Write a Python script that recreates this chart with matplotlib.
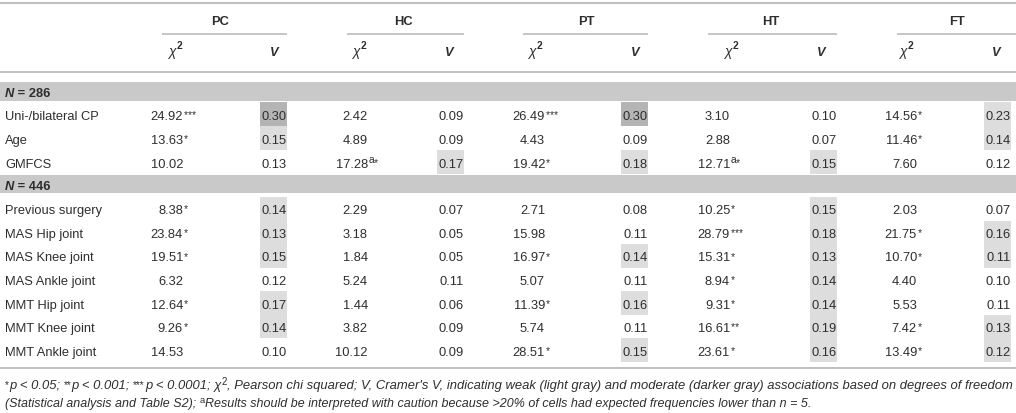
import matplotlib
matplotlib.use('Agg')
import matplotlib.pyplot as plt
from matplotlib.patches import Rectangle

# ---------------- data ----------------
groups = ["PC", "HC", "PT", "HT", "FT"]
section_titles = ["286", "446"]
rows_sec1 = ["Uni-/bilateral CP", "Age", "GMFCS"]
rows_sec2 = ["Previous surgery", "MAS Hip joint", "MAS Knee joint", "MAS Ankle joint",
             "MMT Hip joint", "MMT Knee joint", "MMT Ankle joint"]

# chi-squared values (rows x groups)
chi2_vals = [
    [24.92, 2.42, 26.49, 3.10, 14.56],
    [13.63, 4.89, 4.43, 2.88, 11.46],
    [10.02, 17.28, 19.42, 12.71, 7.60],
    [8.38, 2.29, 2.71, 10.25, 2.03],
    [23.84, 3.18, 15.98, 28.79, 21.75],
    [19.51, 1.84, 16.97, 15.31, 10.70],
    [6.32, 5.24, 5.07, 8.94, 4.40],
    [12.64, 1.44, 11.39, 9.31, 5.53],
    [9.26, 3.82, 5.74, 16.61, 7.42],
    [14.53, 10.12, 28.51, 23.61, 13.49],
]
chi2_sig = [
    ["***", "", "***", "", "*"],
    ["*", "", "", "", "*"],
    ["", "a*", "*", "a*", ""],
    ["*", "", "", "*", ""],
    ["*", "", "", "***", "*"],
    ["*", "", "*", "*", "*"],
    ["", "", "", "*", ""],
    ["*", "", "*", "*", ""],
    ["*", "", "", "**", "*"],
    ["", "", "*", "*", "*"],
]
# Cramer's V values (rows x groups)
v_vals = [
    [0.30, 0.09, 0.30, 0.10, 0.23],
    [0.15, 0.09, 0.09, 0.07, 0.14],
    [0.13, 0.17, 0.18, 0.15, 0.12],
    [0.14, 0.07, 0.08, 0.15, 0.07],
    [0.13, 0.05, 0.11, 0.18, 0.16],
    [0.15, 0.05, 0.14, 0.13, 0.11],
    [0.12, 0.11, 0.11, 0.14, 0.10],
    [0.17, 0.06, 0.16, 0.14, 0.11],
    [0.14, 0.09, 0.11, 0.19, 0.13],
    [0.10, 0.09, 0.15, 0.16, 0.12],
]
# association strength: 0 none, 1 weak (light gray), 2 moderate (darker gray)
v_shade = [
    [2, 0, 2, 0, 1],
    [1, 0, 0, 0, 1],
    [0, 1, 1, 1, 0],
    [1, 0, 0, 1, 0],
    [1, 0, 0, 1, 1],
    [1, 0, 1, 1, 1],
    [0, 0, 0, 1, 0],
    [1, 0, 1, 1, 0],
    [1, 0, 0, 1, 1],
    [0, 0, 1, 1, 1],
]

# ---------------- style / layout ----------------
W, H = 1016, 413
FONT = 'Liberation Sans'
plt.rcParams['font.family'] = [FONT, 'DejaVu Sans']
TXT = '#2e2e2e'
RULE = '#c0c0c0'
BAND = '#c9c9c9'
SHADES = {1: '#dddddd', 2: '#b4b4b4'}
BODY = 9.3
SUP = 7.4

group_center = [220, 403, 586, 771, 957]
underline = [(162, 287), (347, 464), (523, 648), (708, 837), (897, 1016)]
chi_head = [176, 360, 536, 732, 907]
v_head = [274, 449, 635, 821, 996]
chi_right = [183, 368, 545, 730, 917]
v_right = [287, 464, 648, 837, 1011]

fig = plt.figure(figsize=(W / 100, H / 100), dpi=100)
ax = fig.add_axes([0, 0, 1, 1])
ax.set_xlim(0, W)
ax.set_ylim(H, 0)
ax.axis('off')
renderer = fig.canvas.get_renderer()


def tw(s, **kw):
    t = ax.text(0, 0, '|' + s + '|', **kw)
    w1 = t.get_window_extent(renderer).width
    t.remove()
    t = ax.text(0, 0, '||', **kw)
    w2 = t.get_window_extent(renderer).width
    t.remove()
    return w1 - w2


def runs(x, yb, items):
    for s, kw, dy in items:
        ax.text(x, yb - dy, s, ha='left', va='baseline', color=TXT, **kw)
        x += tw(s, **kw)
    return x


def hline(y, x0, x1, lw):
    ax.plot([x0, x1], [y, y], color=RULE, lw=lw, solid_capstyle='butt')


# rules
hline(2.5, 0, W, 1.5)
for (a, b) in underline:
    hline(34, a, b, 1.3)
hline(71.5, 0, W, 1.5)
hline(368, 0, W, 1.5)

# header
for g, c in enumerate(groups):
    ax.text(group_center[g], 25, c, ha='center', va='baseline', fontsize=BODY,
            fontweight='bold', color=TXT)
    wchi = tw('χ', fontsize=BODY + 0.5, fontstyle='italic')
    w2 = tw('2', fontsize=SUP, fontweight='bold')
    x0 = chi_head[g] - (wchi + w2 + 1) / 2
    runs(x0, 56, [('χ', dict(fontsize=BODY + 0.5, fontstyle='italic'), 0),
                  ('2', dict(fontsize=SUP, fontweight='bold'), 7)])
    ax.text(v_head[g], 56, 'V', ha='center', va='baseline', fontsize=BODY,
            fontweight='bold', fontstyle='italic', color=TXT)

# section bands
bands = [(81.5, 100.5, 92), (174.5, 193, 185)]
for (y0, y1, yc), title in zip(bands, section_titles):
    ax.add_patch(Rectangle((0, y0), W, y1 - y0, facecolor=BAND, edgecolor='none'))
    runs(5, yc + 4.6, [('N', dict(fontsize=BODY, fontweight='bold', fontstyle='italic'), 0),
                       (' = ' + title, dict(fontsize=BODY, fontweight='bold'), 0)])

# row geometry
row_labels = rows_sec1 + rows_sec2
row_tops = []
for i in range(len(rows_sec1)):
    row_tops.append((102 + i * 24.0, 24.0))
for i in range(len(rows_sec2)):
    row_tops.append((197 + i * 23.55, 23.55))

for r, label in enumerate(row_labels):
    top, h = row_tops[r]
    yb = top + h / 2 + 1 + 4.6
    ax.text(5, yb, label, ha='left', va='baseline', fontsize=BODY, color=TXT)
    for g in range(len(groups)):
        s = v_shade[r][g]
        if s:
            ax.add_patch(Rectangle((v_right[g] - 27.5, top), 27.5, h,
                                   facecolor=SHADES[s], edgecolor='none', zorder=1))
        ax.text(v_right[g] - 0.5, yb, '%.2f' % v_vals[r][g], ha='right', va='baseline',
                fontsize=BODY, color=TXT, zorder=3)
        ax.text(chi_right[g], yb, '%.2f' % chi2_vals[r][g], ha='right', va='baseline',
                fontsize=BODY, color=TXT, zorder=3)
        sig = chi2_sig[r][g]
        if sig:
            items = []
            for ch in sig:
                if ch == 'a':
                    items.append(('a', dict(fontsize=SUP), 5.0))
                else:
                    items.append((ch, dict(fontsize=SUP), 1.8))
            runs(chi_right[g] + 0.5, yb, items)

# footnote
line1 = [('*', 'sup'), ('p < 0.05; ', 'it'), ('**', 'sup'), ('p < 0.001; ', 'it'),
         ('***', 'sup'), ('p < 0.0001; χ', 'it'), ('2', 'sup2'),
         (", Pearson chi squared; V, Cramer's V, indicating weak (light gray) and moderate "
          "(darker gray) associations based on degrees of freedom", 'it')]
line2 = [('(Statistical analysis and Table S2); ', 'it'), ('a', 'sup2'),
         ('Results should be interpreted with caution because >20% of cells had expected '
          'frequencies lower than n = 5.', 'it')]


def style(kind, fs):
    if kind == 'it':
        return dict(fontsize=fs, fontstyle='italic'), 0
    if kind == 'sup':
        return dict(fontsize=fs * 0.78), 1.5
    return dict(fontsize=fs * 0.75), 4.5


def measure(line, fs):
    total = 0
    for s, k in line:
        kw, _ = style(k, fs)
        total += tw(s, **kw)
    return total


def fit(line, target):
    fs = 8.0
    for _ in range(3):
        fs = fs * (target / measure(line, fs))
    return fs


for line, yb, target in [(line1, 389.5, 1006.0), (line2, 407.5, 807.0)]:
    fs = fit(line, target)
    items = []
    for s, k in line:
        kw, dy = style(k, fs)
        items.append((s, kw, dy))
    runs(5, yb, items)

fig.savefig('out.png', dpi=100)
